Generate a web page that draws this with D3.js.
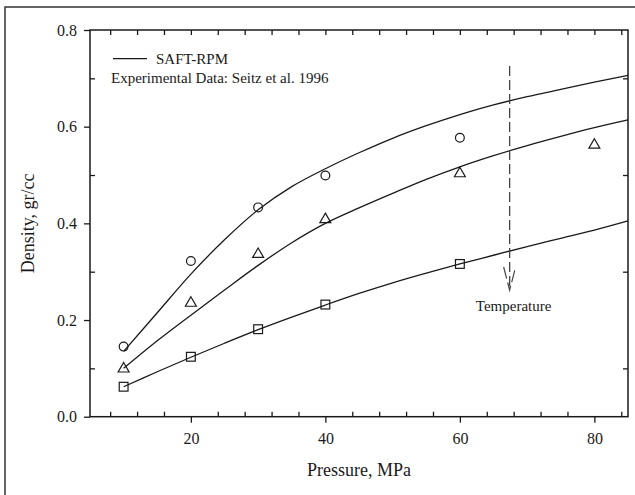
<!DOCTYPE html>
<html>
<head>
<meta charset="utf-8">
<script src="https://cdn.jsdelivr.net/npm/d3@7"></script>
<style>
body { margin: 0; background: #fff; }
svg { display: block; font-family: "Liberation Serif", "Times New Roman", serif; }
</style>
</head>
<body>
<svg id="chart" width="635" height="495"></svg>
<script>
// ---- Data ----
const pressureExp = [10, 20, 30, 40, 60];
const circleDensity = [0.145, 0.322, 0.433, 0.499, 0.577];
const triPressure = [10, 20, 30, 40, 60, 80];
const triDensity = [0.099, 0.235, 0.336, 0.408, 0.503, 0.562];
const squareDensity = [0.062, 0.124, 0.181, 0.232, 0.316];

const modelPressure = [10, 15, 20, 25, 30, 35, 40, 45, 50, 55, 60, 65, 70, 75, 80, 85];
const modelTop = [0.135, 0.215, 0.295, 0.366, 0.428, 0.476, 0.513, 0.546, 0.576, 0.602, 0.625, 0.645, 0.662, 0.677, 0.692, 0.706];
const modelMid = [0.100, 0.157, 0.210, 0.262, 0.313, 0.360, 0.400, 0.432, 0.462, 0.491, 0.517, 0.540, 0.561, 0.580, 0.598, 0.614];
const modelBot = [0.062, 0.093, 0.123, 0.152, 0.180, 0.206, 0.231, 0.255, 0.277, 0.297, 0.316, 0.334, 0.352, 0.369, 0.386, 0.405];

const xMajorTicks = [20, 40, 60, 80];
const xMinorTicks = [8, 12, 16, 24, 28, 32, 36, 44, 48, 52, 56, 64, 68, 72, 76, 84];
const yMajorTicks = [0.0, 0.2, 0.4, 0.6, 0.8];
const yMinorTicks = [0.1, 0.3, 0.5, 0.7];
const arrowPressure = 67.4;

const legendLine = "SAFT-RPM";
const legendExp = "Experimental Data: Seitz et al. 1996";
const xTitle = "Pressure, MPa";
const yTitle = "Density, gr/cc";
const arrowLabel = "Temperature";

// ---- Layout ----
const svg = d3.select("#chart");
const L = 90, R = 628, T = 30, B = 416.7;
const x = d3.scaleLinear().domain([5, 85]).range([L, R]);
const y = d3.scaleLinear().domain([0, 0.8]).range([B, T]);
const ink = "#1a1a1a";

// outer frame (cropped figure border)
svg.append("rect").attr("x", 5).attr("y", 7).attr("width", 640).attr("height", 500)
  .attr("fill", "none").attr("stroke", "#333").attr("stroke-width", 1.5);

function styleAxis(g) {
  g.select(".domain").remove();
  g.selectAll("line").attr("stroke", ink).attr("stroke-width", 1.3);
  g.selectAll("text").attr("fill", ink).style("font-size", "16px").style("font-family", "Liberation Serif, serif");
}

// bottom axis
svg.append("g").attr("transform", `translate(0,${B})`)
  .call(d3.axisBottom(x).tickValues(xMajorTicks).tickSize(6).tickPadding(10).tickFormat(d3.format("d")))
  .call(styleAxis);
svg.append("g").attr("transform", `translate(0,${B})`)
  .call(d3.axisBottom(x).tickValues(xMinorTicks).tickSize(-5).tickFormat(""))
  .call(styleAxis);
// top axis (inward)
svg.append("g").attr("transform", `translate(0,${T})`)
  .call(d3.axisTop(x).tickValues(xMajorTicks.concat(xMinorTicks)).tickSize(-5).tickFormat(""))
  .call(styleAxis);
// left axis
svg.append("g").attr("transform", `translate(${L},0)`)
  .call(d3.axisLeft(y).tickValues(yMajorTicks).tickSize(6).tickPadding(7).tickFormat(d3.format(".1f")))
  .call(styleAxis);
svg.append("g").attr("transform", `translate(${L},0)`)
  .call(d3.axisLeft(y).tickValues(yMinorTicks).tickSize(-5).tickFormat(""))
  .call(styleAxis);
// right axis (inward minor)
svg.append("g").attr("transform", `translate(${R},0)`)
  .call(d3.axisRight(y).tickValues(yMinorTicks).tickSize(-5).tickFormat(""))
  .call(styleAxis);

// plot frame
svg.append("rect").attr("x", L).attr("y", T).attr("width", R - L).attr("height", B - T)
  .attr("fill", "none").attr("stroke", ink).attr("stroke-width", 1.5);

// axis titles
svg.append("text").attr("x", (L + R) / 2).attr("y", 476).attr("text-anchor", "middle")
  .style("font-size", "18px").attr("fill", ink).text(xTitle);
svg.append("text").attr("transform", `translate(34,${(T + B) / 2}) rotate(-90)`).attr("text-anchor", "middle")
  .style("font-size", "18px").attr("fill", ink).text(yTitle);

// model curves
const line = d3.line().x(d => x(d[0])).y(d => y(d[1])).curve(d3.curveCatmullRom.alpha(0.5));
[modelTop, modelMid, modelBot].forEach(arr => {
  svg.append("path").datum(modelPressure.map((p, i) => [p, arr[i]]))
    .attr("d", line).attr("fill", "none").attr("stroke", ink).attr("stroke-width", 1.3);
});

// markers
const mk = { fill: "none", stroke: ink, sw: 1.2 };
svg.append("g").selectAll("circle").data(pressureExp.map((p, i) => [p, circleDensity[i]]))
  .join("circle").attr("cx", d => x(d[0])).attr("cy", d => y(d[1])).attr("r", 4.4)
  .attr("fill", mk.fill).attr("stroke", mk.stroke).attr("stroke-width", mk.sw);
const triSym = d3.symbol().type(d3.symbolTriangle).size(52);
svg.append("g").selectAll("path").data(triPressure.map((p, i) => [p, triDensity[i]]))
  .join("path").attr("d", triSym).attr("transform", d => `translate(${x(d[0])},${y(d[1])})`)
  .attr("fill", mk.fill).attr("stroke", mk.stroke).attr("stroke-width", mk.sw);
svg.append("g").selectAll("rect").data(pressureExp.map((p, i) => [p, squareDensity[i]]))
  .join("rect").attr("x", d => x(d[0]) - 4.4).attr("y", d => y(d[1]) - 4.4)
  .attr("width", 8.8).attr("height", 8.8)
  .attr("fill", mk.fill).attr("stroke", mk.stroke).attr("stroke-width", mk.sw);

// temperature arrow
const ax = x(arrowPressure);
const tipY = 290, topY = 66;
const dash = "10,4";
svg.append("line").attr("x1", ax).attr("x2", ax).attr("y1", topY).attr("y2", tipY)
  .attr("stroke", "#444").attr("stroke-width", 1.3).attr("stroke-dasharray", dash);
svg.append("path").attr("d", `M${ax - 6},${tipY - 23}L${ax},${tipY}L${ax + 6},${tipY - 23}`)
  .attr("fill", "none").attr("stroke", "#444").attr("stroke-width", 1.2).attr("stroke-dasharray", "12,4");
svg.append("text").attr("x", ax + 4).attr("y", 311).attr("text-anchor", "middle")
  .style("font-size", "15px").attr("fill", ink).text(arrowLabel);

// legend
svg.append("line").attr("x1", 113).attr("x2", 147).attr("y1", 58.7).attr("y2", 58.7)
  .attr("stroke", ink).attr("stroke-width", 1.3);
svg.append("text").attr("x", 156).attr("y", 64).style("font-size", "15px").attr("fill", ink).text(legendLine);
svg.append("text").attr("x", 111).attr("y", 83).style("font-size", "15px").attr("fill", ink).text(legendExp);
</script>
</body>
</html>
